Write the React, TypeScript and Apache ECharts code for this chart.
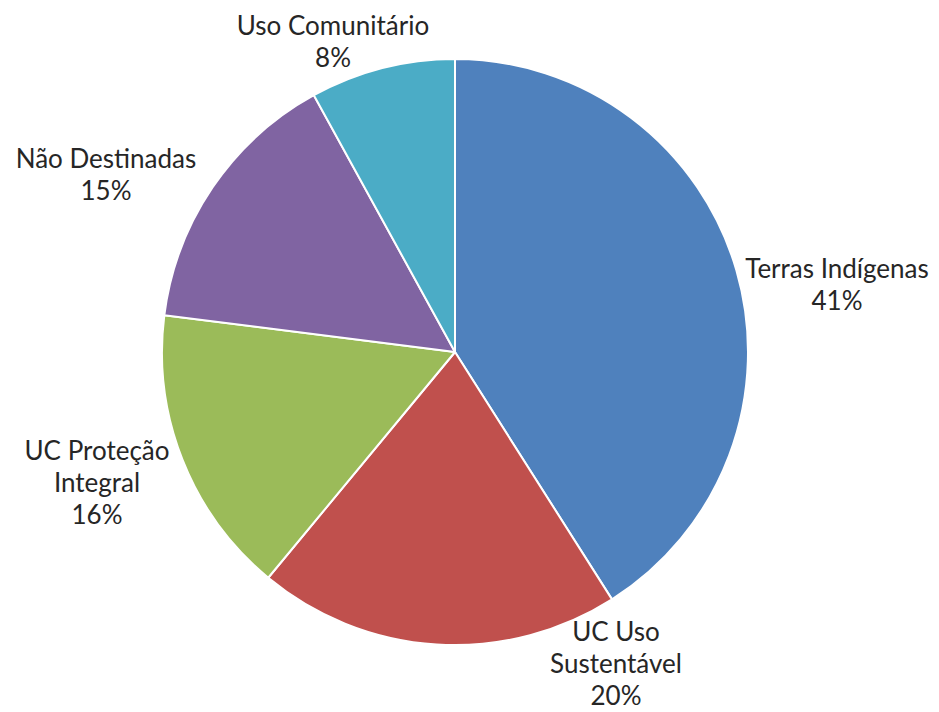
import React, { useEffect, useRef } from "react";
import * as echarts from "echarts";

const categories = [
  "Terras Indígenas",
  "UC Uso Sustentável",
  "UC Proteção Integral",
  "Não Destinadas",
  "Uso Comunitário",
];
const values = [41, 20, 16, 15, 8];
const labelNames = [
  "Terras Indígenas",
  "UC Uso\nSustentável",
  "UC Proteção\nIntegral",
  "Não Destinadas",
  "Uso Comunitário",
];
const colors = ["#4F81BD", "#C0504D", "#9BBB59", "#8064A2", "#4BACC6"];
// label centre positions (layout only)
const labelPos: [number, number][] = [
  [837, 284],
  [616, 663],
  [97, 482],
  [106, 174],
  [333, 41],
];

export default function App() {
  const ref = useRef<HTMLDivElement>(null);
  useEffect(() => {
    document.body.style.margin = "0";
    const chart = echarts.init(ref.current!, undefined, { renderer: "svg" });
    chart.setOption({
      animation: false,
      backgroundColor: "#ffffff",
      series: [
        {
          type: "pie",
          center: [455, 352],
          radius: 293,
          startAngle: 90,
          clockwise: true,
          percentPrecision: 0,
          data: categories.map((c, i) => ({
            name: c,
            value: values[i],
            itemStyle: { color: colors[i] },
          })),
          itemStyle: { borderColor: "#ffffff", borderWidth: 2 },
          label: {
            show: true,
            position: "outside",
            formatter: (p: any) => `${labelNames[p.dataIndex]}\n${p.percent}%`,
            fontFamily: "Lato, 'Open Sans', sans-serif",
            fontSize: 26,
            lineHeight: 32,
            color: "#262626",
            align: "center",
            overflow: "none",
            width: 300,
          },
          labelLine: { show: false },
          labelLayout: (params: any) => {
            const p = labelPos[params.dataIndex];
            return { x: p[0], y: p[1], align: "center", verticalAlign: "middle" };
          },
          emphasis: { disabled: true },
        },
      ],
    });
    return () => chart.dispose();
  }, []);
  return <div ref={ref} style={{ width: 939, height: 712 }} />;
}
